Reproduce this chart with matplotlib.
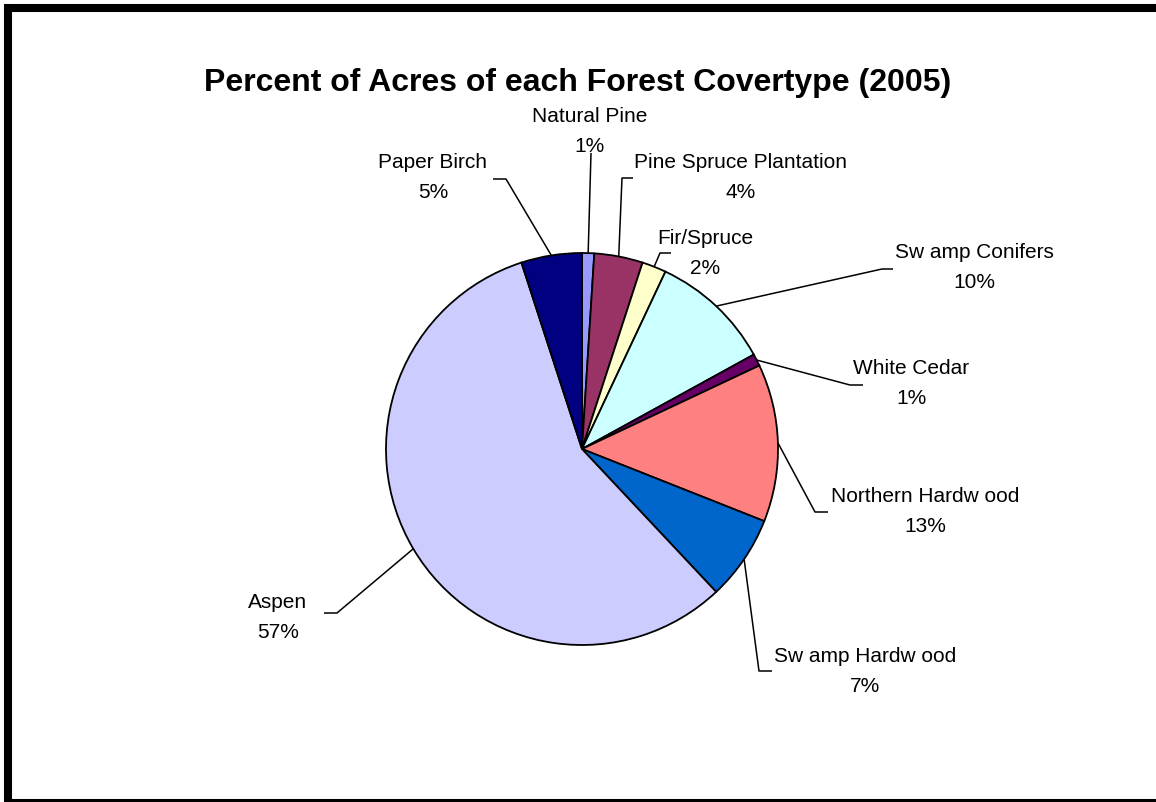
import numpy as np
import matplotlib
matplotlib.use("Agg")
import matplotlib.pyplot as plt
from matplotlib.patches import Rectangle

# Forest covertype shares (percent of acres, 2005), clockwise from the top
covertypes = ["Natural Pine", "Pine Spruce Plantation", "Fir/Spruce", "Sw amp Conifers",
              "White Cedar", "Northern Hardw ood", "Sw amp Hardw ood", "Aspen", "Paper Birch"]
percents = [1, 4, 2, 10, 1, 13, 7, 57, 5]
colors = ["#9999FF", "#993366", "#FFFFCC", "#CCFFFF", "#660066",
          "#FF8080", "#0066CC", "#CCCCFF", "#000080"]

W, H = 1156, 802
plt.rcParams['font.family'] = ['Liberation Sans', 'DejaVu Sans']

fig = plt.figure(figsize=(W / 100, H / 100), dpi=100)
ax = fig.add_axes([0, 0, 1, 1])


def Y(y):
    return H - y


cx, cy, R = 582, 449, 196
wedges, _ = ax.pie(percents, colors=colors, startangle=90, counterclock=False,
                   center=(cx, Y(cy)), radius=R, frame=True,
                   wedgeprops=dict(edgecolor="black", linewidth=1.3))
ax.set_xlim(0, W)
ax.set_ylim(0, H)
ax.set_aspect("auto")
ax.axis("off")

# label placement: name centre, then leader polyline points (from the text side)
label_pos = [(590, 117), (741, 163), (705, 238), (974, 253), (911, 369),
             (925, 496), (865, 657), (278, 603), (433, 163)]
leaders = [[(591, 153)],
           [(633, 178), (622, 178)],
           [(671, 253), (660, 253)],
           [(893, 269), (882, 269)],
           [(863, 385), (850, 385)],
           [(828, 512), (815, 512)],
           [(772, 671), (759, 671)],
           [(324, 613), (337, 613)],
           [(493, 179), (506, 179)]]

for w, name, pct, (lx, ly), pts in zip(wedges, covertypes, percents, label_pos, leaders):
    ax.text(lx, Y(ly), name, ha="center", va="center", fontsize=15, color="black")
    ax.text(lx, Y(ly + 30), f"{pct}%", ha="center", va="center", fontsize=15, color="black")
    mid = np.deg2rad((w.theta1 + w.theta2) / 2)
    ex, ey = cx + R * np.cos(mid), Y(cy) + R * np.sin(mid)
    xs = [p[0] for p in pts] + [ex]
    ys = [Y(p[1]) for p in pts] + [ey]
    ax.plot(xs, ys, color="black", linewidth=1.1, solid_capstyle="butt")

ax.text(578, Y(83), "Percent of Acres of each Forest Covertype (2005)",
        ha="center", va="center", fontsize=23, fontweight="bold", color="black")

# heavy outer frame
ax.add_patch(Rectangle((8, Y(803)), 1154, 795, fill=False, edgecolor="black",
                       linewidth=5.8, clip_on=False))

fig.savefig("out.png", dpi=100)
